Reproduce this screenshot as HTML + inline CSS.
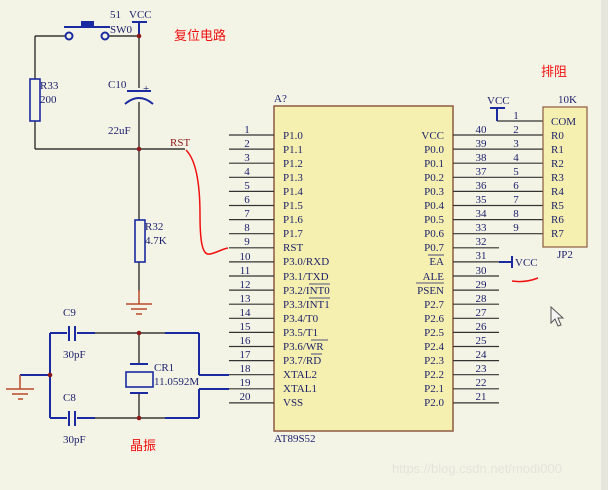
<!DOCTYPE html>
<html><head><meta charset="utf-8"><style>
html,body{margin:0;padding:0;background:#f4f4e6;}
svg{display:block;}
text{font-family:"Liberation Serif",serif;font-size:11px;fill:#1a1f6a;}
.cn{font-family:"Liberation Sans","Noto Sans CJK SC",sans-serif;font-size:13px;fill:#f01010;}
</style></head><body>
<svg width="608" height="490" viewBox="0 0 608 490" xmlns="http://www.w3.org/2000/svg">
<rect x="0" y="0" width="608" height="490" fill="#f4f4e6"/>
<rect x="601" y="0" width="7" height="490" fill="#e6e6dc"/>
<!-- chip -->
<rect x="274" y="106" width="179" height="325" fill="#f6f0b0" stroke="#8b5a40" stroke-width="1.5"/>
<text x="274" y="102" font-size="10">A?</text>
<text x="274" y="442">AT89S52</text>
<g stroke="#333" stroke-width="1.2">
<line x1="229" y1="135" x2="274" y2="135"/><line x1="229" y1="149.1" x2="274" y2="149.1"/>
<line x1="229" y1="163.2" x2="274" y2="163.2"/><line x1="229" y1="177.3" x2="274" y2="177.3"/>
<line x1="229" y1="191.4" x2="274" y2="191.4"/><line x1="229" y1="205.5" x2="274" y2="205.5"/>
<line x1="229" y1="219.6" x2="274" y2="219.6"/><line x1="229" y1="233.7" x2="274" y2="233.7"/>
<line x1="229" y1="247.8" x2="274" y2="247.8"/><line x1="229" y1="261.9" x2="274" y2="261.9"/>
<line x1="229" y1="276" x2="274" y2="276"/><line x1="229" y1="290.1" x2="274" y2="290.1"/>
<line x1="229" y1="304.2" x2="274" y2="304.2"/><line x1="229" y1="318.3" x2="274" y2="318.3"/>
<line x1="229" y1="332.4" x2="274" y2="332.4"/><line x1="229" y1="346.5" x2="274" y2="346.5"/>
<line x1="229" y1="360.6" x2="274" y2="360.6"/><line x1="199" y1="374.7" x2="274" y2="374.7"/>
<line x1="199" y1="388.8" x2="274" y2="388.8"/><line x1="229" y1="402.9" x2="274" y2="402.9"/>
<line x1="453" y1="135" x2="543" y2="135"/><line x1="453" y1="149.1" x2="543" y2="149.1"/>
<line x1="453" y1="163.2" x2="543" y2="163.2"/><line x1="453" y1="177.3" x2="543" y2="177.3"/>
<line x1="453" y1="191.4" x2="543" y2="191.4"/><line x1="453" y1="205.5" x2="543" y2="205.5"/>
<line x1="453" y1="219.6" x2="543" y2="219.6"/><line x1="453" y1="233.7" x2="543" y2="233.7"/>
<line x1="453" y1="247.8" x2="499" y2="247.8"/><line x1="453" y1="261.9" x2="499" y2="261.9"/>
<line x1="453" y1="276" x2="499" y2="276"/><line x1="453" y1="290.1" x2="499" y2="290.1"/>
<line x1="453" y1="304.2" x2="499" y2="304.2"/><line x1="453" y1="318.3" x2="499" y2="318.3"/>
<line x1="453" y1="332.4" x2="499" y2="332.4"/><line x1="453" y1="346.5" x2="499" y2="346.5"/>
<line x1="453" y1="360.6" x2="499" y2="360.6"/><line x1="453" y1="374.7" x2="499" y2="374.7"/>
<line x1="453" y1="388.8" x2="499" y2="388.8"/><line x1="453" y1="402.9" x2="499" y2="402.9"/>
<line x1="497" y1="121" x2="543" y2="121"/>
</g>
<g text-anchor="middle">
<text x="247" y="133">1</text><text x="247" y="147">2</text><text x="247" y="161">3</text><text x="247" y="175">4</text><text x="247" y="189">5</text><text x="247" y="203">6</text><text x="247" y="217">7</text><text x="247" y="231">8</text><text x="247" y="245">9</text><text x="245" y="260">10</text><text x="245" y="274">11</text><text x="245" y="288">12</text><text x="245" y="302">13</text><text x="245" y="316">14</text><text x="245" y="330">15</text><text x="245" y="344">16</text><text x="245" y="358">17</text><text x="245" y="372">18</text><text x="245" y="386">19</text><text x="245" y="400">20</text>
<text x="481" y="133">40</text><text x="481" y="147">39</text><text x="481" y="161">38</text><text x="481" y="175">37</text><text x="481" y="189">36</text><text x="481" y="203">35</text><text x="481" y="217">34</text><text x="481" y="231">33</text><text x="481" y="245">32</text><text x="481" y="259">31</text><text x="481" y="274">30</text><text x="481" y="288">29</text><text x="481" y="302">28</text><text x="481" y="316">27</text><text x="481" y="330">26</text><text x="481" y="344">25</text><text x="481" y="358">24</text><text x="481" y="372">23</text><text x="481" y="386">22</text><text x="481" y="400">21</text>
<text x="516" y="119">1</text><text x="516" y="133">2</text><text x="516" y="147">3</text><text x="516" y="161">4</text><text x="516" y="175">5</text><text x="516" y="189">6</text><text x="516" y="203">7</text><text x="516" y="217">8</text><text x="516" y="231">9</text>
</g>
<g>
<text x="283" y="139">P1.0</text><text x="283" y="153">P1.1</text><text x="283" y="167">P1.2</text><text x="283" y="181">P1.3</text><text x="283" y="195">P1.4</text><text x="283" y="209">P1.5</text><text x="283" y="223">P1.6</text><text x="283" y="237">P1.7</text><text x="283" y="251">RST</text><text x="283" y="265">P3.0/RXD</text><text x="283" y="280">P3.1/TXD</text><text x="283" y="294">P3.2/INT0</text><text x="283" y="308">P3.3/INT1</text><text x="283" y="322">P3.4/T0</text><text x="283" y="336">P3.5/T1</text><text x="283" y="350">P3.6/WR</text><text x="283" y="364">P3.7/RD</text><text x="283" y="378">XTAL2</text><text x="283" y="392">XTAL1</text><text x="283" y="406">VSS</text>
</g>
<g stroke="#1a1f6a" stroke-width="0.8">
<line x1="309" y1="284" x2="330" y2="284"/><line x1="309" y1="298" x2="330" y2="298"/><line x1="311" y1="340" x2="328" y2="340"/><line x1="311" y1="354" x2="322" y2="354"/>
<line x1="428" y1="255" x2="444" y2="255"/><line x1="416" y1="283" x2="444" y2="283"/>
</g>
<g text-anchor="end">
<text x="444" y="139">VCC</text><text x="444" y="153">P0.0</text><text x="444" y="167">P0.1</text><text x="444" y="181">P0.2</text><text x="444" y="195">P0.3</text><text x="444" y="209">P0.4</text><text x="444" y="223">P0.5</text><text x="444" y="237">P0.6</text><text x="444" y="251">P0.7</text><text x="444" y="265">EA</text><text x="444" y="280">ALE</text><text x="444" y="294">PSEN</text><text x="444" y="308">P2.7</text><text x="444" y="322">P2.6</text><text x="444" y="336">P2.5</text><text x="444" y="350">P2.4</text><text x="444" y="364">P2.3</text><text x="444" y="378">P2.2</text><text x="444" y="392">P2.1</text><text x="444" y="406">P2.0</text>
</g>
<rect x="543" y="107" width="44" height="140" fill="#f6f0b0" stroke="#8b5a40" stroke-width="1.2"/>
<text x="558" y="103" font-size="10">10K</text>
<text x="557" y="258">JP2</text>
<text x="551" y="125">COM</text><text x="551" y="139">R0</text><text x="551" y="153">R1</text><text x="551" y="167">R2</text><text x="551" y="181">R3</text><text x="551" y="195">R4</text><text x="551" y="209">R5</text><text x="551" y="223">R6</text><text x="551" y="237">R7</text>
<text x="487" y="104" font-size="10">VCC</text>
<g stroke="#1a2aa0" stroke-width="2" fill="none">
<line x1="490" y1="108" x2="505" y2="108"/><line x1="497" y1="108" x2="497" y2="121"/>
<line x1="499" y1="262" x2="512" y2="262"/><line x1="512" y1="256" x2="512" y2="268"/>
</g>
<text x="515" y="266" font-size="10">VCC</text>
<text class="cn" x="541" y="76">排阻</text>
<path d="M512 281 Q525 283 538 278" stroke="#f01010" stroke-width="1.5" fill="none"/>
<!-- reset circuit -->
<text x="110" y="18" font-size="10">51</text>
<text x="129" y="18" font-size="10">VCC</text>
<text x="110" y="33" font-size="10">SW0</text>
<g stroke="#111" stroke-width="1.2" fill="none">
<line x1="35" y1="36" x2="66" y2="36"/><line x1="108" y1="36" x2="139" y2="36"/>
<line x1="35" y1="36" x2="35" y2="79"/><line x1="35" y1="121" x2="35" y2="149"/>
<line x1="35" y1="149" x2="185" y2="149"/>
<line x1="139" y1="22" x2="139" y2="88"/><line x1="139" y1="102" x2="139" y2="220"/>
<line x1="139" y1="262" x2="139" y2="292"/>
<line x1="139" y1="333" x2="139" y2="363"/><line x1="139" y1="394" x2="139" y2="418"/>
</g>
<g stroke="#1a2aa0" stroke-width="2" fill="none">
<line x1="132" y1="22" x2="147" y2="22"/><line x1="139" y1="22" x2="139" y2="36"/>
<rect x="30" y="79" width="10" height="42" stroke-width="1.6"/>
<rect x="135" y="220" width="10" height="42" stroke-width="1.6"/>
<line x1="127" y1="91" x2="151" y2="91"/>
<path d="M125 104 Q139 92 153 104"/>
<line x1="64" y1="27" x2="110" y2="27"/><rect x="82" y="22" width="11" height="5" fill="#1a2aa0"/>
<circle cx="69" cy="36" r="3.5" fill="#f4f4e6"/><circle cx="105" cy="36" r="3.5" fill="#f4f4e6"/>
<line x1="69" y1="326" x2="69" y2="341"/><line x1="75" y1="326" x2="75" y2="341"/>
<line x1="69" y1="411" x2="69" y2="426"/><line x1="75" y1="411" x2="75" y2="426"/>
<line x1="50" y1="333" x2="67" y2="333"/><line x1="77" y1="333" x2="95" y2="333"/>
<line x1="50" y1="418" x2="67" y2="418"/><line x1="77" y1="418" x2="95" y2="418"/>
<line x1="95" y1="333" x2="139" y2="333" stroke="#111" stroke-width="1.2"/>
<line x1="95" y1="418" x2="139" y2="418" stroke="#111" stroke-width="1.2"/>
<line x1="139" y1="333" x2="165" y2="333" stroke="#111" stroke-width="1.2"/>
<line x1="139" y1="418" x2="165" y2="418" stroke="#111" stroke-width="1.2"/>
<line x1="50" y1="333" x2="50" y2="418"/>
<line x1="20" y1="375" x2="50" y2="375"/>
<line x1="199" y1="333" x2="199" y2="375"/><line x1="199" y1="389" x2="199" y2="418"/>
<line x1="165" y1="333" x2="199" y2="333"/><line x1="165" y1="418" x2="199" y2="418"/>
<line x1="199" y1="375" x2="229" y2="375"/><line x1="199" y1="389" x2="229" y2="389"/>
<line x1="130" y1="364" x2="148" y2="364"/><line x1="130" y1="393" x2="148" y2="393"/>
<rect x="126" y="372" width="27" height="15" stroke-width="1.6"/>
</g>
<g stroke="#b84a2a" stroke-width="1.5">
<line x1="139" y1="290" x2="139" y2="304"/>
<line x1="126" y1="304" x2="152" y2="304"/><line x1="131" y1="309" x2="147" y2="309"/><line x1="136" y1="314" x2="142" y2="314"/>
<line x1="20" y1="375" x2="20" y2="389"/>
<line x1="6" y1="389" x2="34" y2="389"/><line x1="12" y1="394" x2="28" y2="394"/><line x1="18" y1="399" x2="23" y2="399"/>
</g>
<g fill="#8b1a1a"><circle cx="139" cy="36" r="2.3"/><circle cx="139" cy="149" r="2.3"/><circle cx="139" cy="333" r="2.3"/><circle cx="139" cy="418" r="2.3"/><circle cx="50" cy="375" r="2.3"/></g>
<text x="40" y="89">R33</text><text x="40" y="103">200</text>
<text x="108" y="88">C10</text><text x="143" y="92" font-size="9">+</text>
<text x="108" y="134">22uF</text>
<text x="170" y="146" style="fill:#8b1a1a">RST</text>
<text x="145" y="230">R32</text><text x="145" y="244">4.7K</text>
<text x="63" y="316">C9</text><text x="63" y="358">30pF</text>
<text x="63" y="401">C8</text><text x="63" y="443">30pF</text>
<text x="154" y="371">CR1</text><text x="154" y="385">11.0592M</text>
<text class="cn" x="174" y="40">复位电路</text>
<text class="cn" x="130" y="450">晶振</text>
<path d="M186 150 C196 160 200 185 200 215 C200 240 202 256 210 254 C216 253 222 249 228 248" stroke="#f01010" stroke-width="1.5" fill="none"/>
<path d="M551 307 L551 323 L555 319 L558 326 L561 325 L558 318 L563 318 Z" fill="#f4f4f4" stroke="#555" stroke-width="1"/>
<text x="392" y="473" style="fill:#e4e4dc;font-family:'Liberation Sans',sans-serif;font-size:13px">https://blog.csdn.net/modi000</text>
</svg>
</body></html>
